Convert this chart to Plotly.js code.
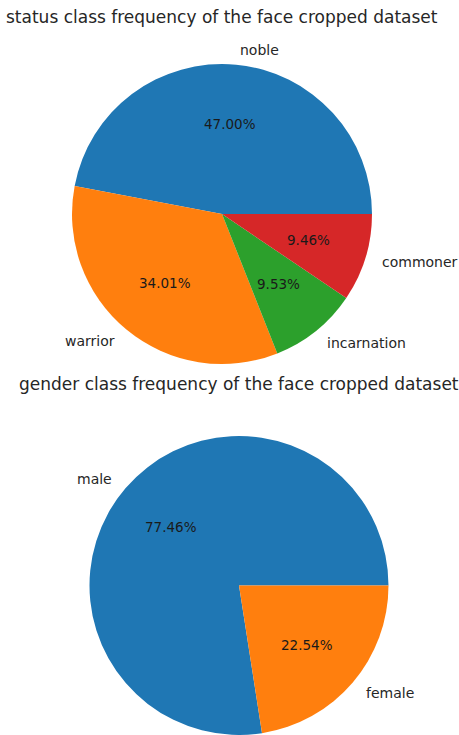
<!DOCTYPE html>
<html>
<head>
<meta charset="utf-8">
<script src="https://cdn.plot.ly/plotly-3.0.1.min.js"></script>
<style>html,body{margin:0;padding:0;background:#fff;}#chart{width:459px;height:735px;}</style>
</head>
<body>
<div id="chart"></div>
<script>
// ---- data ----
const statusLabels = ["noble", "warrior", "incarnation", "commoner"];
const statusValues = [47.00, 34.01, 9.53, 9.46];
const genderLabels = ["male", "female"];
const genderValues = [77.46, 22.54];
const colors = ["#1f77b4", "#ff7f0e", "#2ca02c", "#d62728"];
const titles = ["status class frequency of the face cropped dataset",
                "gender class frequency of the face cropped dataset"];

// ---- layout geometry (pixels) ----
const W = 459, H = 735;
const pies = [
  {labels: statusLabels, values: statusValues, cx: 222, cy: 214, r: 150, title: titles[0], ty: 17},
  {labels: genderLabels, values: genderValues, cx: 239, cy: 586, r: 150, title: titles[1], ty: 384}
];
const px = x => x / W;
const py = y => 1 - y / H;
const font = "DejaVu Sans, sans-serif";

const traces = [];
const annotations = [];
pies.forEach((p, i) => {
  const total = p.values.reduce((a, b) => a + b, 0);
  // Plotly keeps the first slice clockwise of `rotation` even in ccw mode,
  // so shift so that the first slice starts at 3 o'clock going ccw.
  const rot = 90 - 360 * p.values[0] / total;
  traces.push({
    type: "pie",
    labels: p.labels,
    values: p.values,
    sort: false,
    direction: "counterclockwise",
    rotation: rot,
    textinfo: "none",
    hoverinfo: "label+percent",
    showlegend: false,
    marker: {colors: colors.slice(0, p.labels.length), line: {width: 0}},
    domain: {x: [px(p.cx - p.r), px(p.cx + p.r)], y: [py(p.cy + p.r), py(p.cy - p.r)]}
  });
  let start = 0;
  p.values.forEach((v, k) => {
    const frac = v / total;
    const mid = (start + frac / 2) * 2 * Math.PI;
    start += frac;
    const c = Math.cos(mid), s = Math.sin(mid);
    // outer label at 1.1 r
    annotations.push({
      xref: "paper", yref: "paper",
      x: px(p.cx + 1.1 * p.r * c), y: py(p.cy - 1.1 * p.r * s),
      text: p.labels[k], showarrow: false,
      xanchor: c >= 0 ? "left" : "right", yanchor: "middle",
      font: {family: font, size: 14, color: "#262626"}
    });
    // percent at 0.6 r
    annotations.push({
      xref: "paper", yref: "paper",
      x: px(p.cx + 0.6 * p.r * c), y: py(p.cy - 0.6 * p.r * s),
      text: (100 * frac).toFixed(2) + "%", showarrow: false,
      xanchor: "center", yanchor: "middle",
      font: {family: font, size: 13.5, color: "#1a1a1a"}
    });
  });
  annotations.push({
    xref: "paper", yref: "paper",
    x: px(p.cx), y: py(p.ty),
    text: p.title, showarrow: false,
    xanchor: "center", yanchor: "middle",
    font: {family: font, size: 17, color: "#262626"}
  });
});

Plotly.newPlot("chart", traces, {
  width: W, height: H,
  margin: {l: 0, r: 0, t: 0, b: 0},
  paper_bgcolor: "#fff",
  annotations: annotations
}, {displayModeBar: false, staticPlot: true});
</script>
</body>
</html>
